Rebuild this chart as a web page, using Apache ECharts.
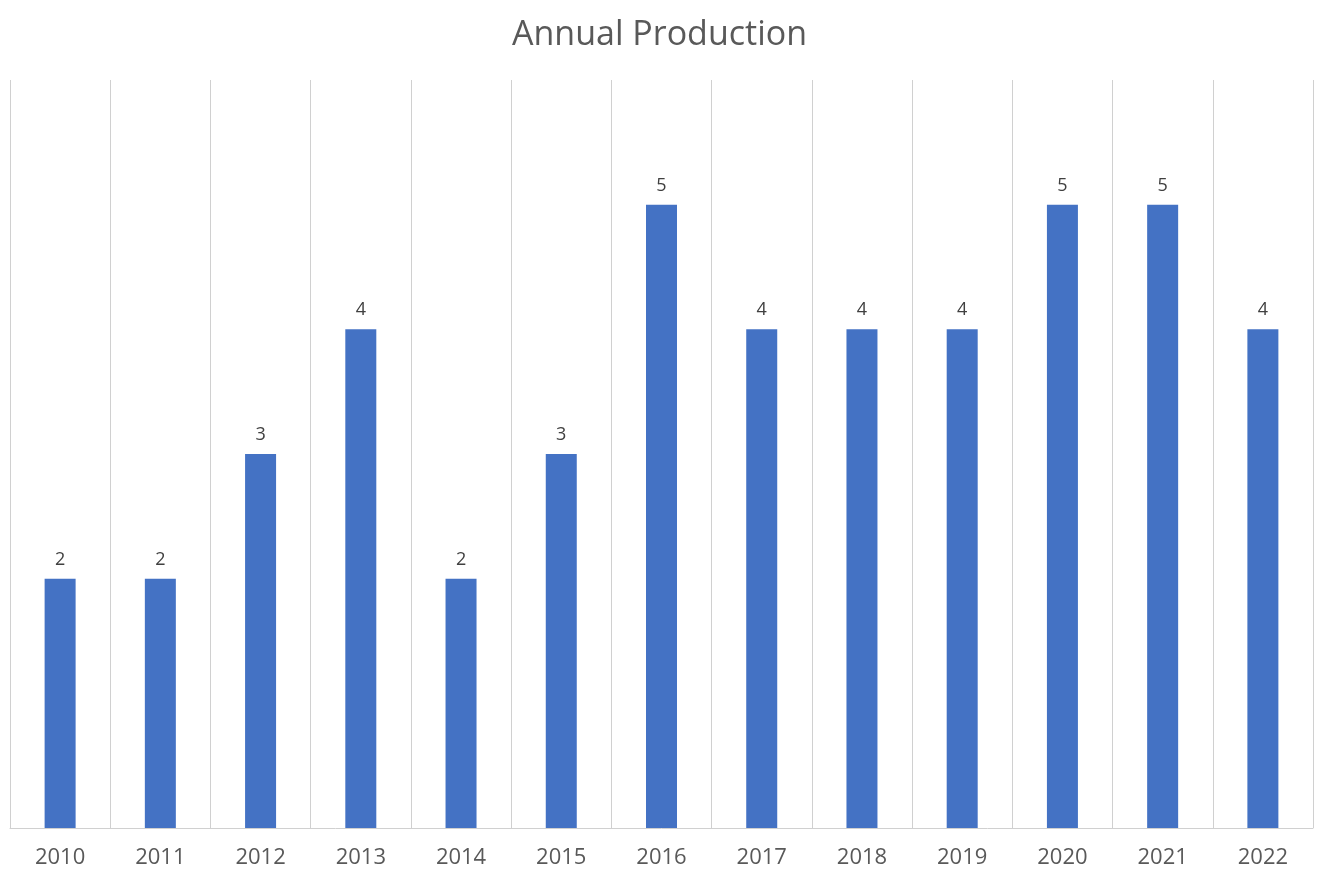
<!DOCTYPE html>
<html>
<head>
<meta charset="utf-8">
<script src="https://cdn.jsdelivr.net/npm/echarts@6/dist/echarts.min.js"></script>
<style>
html,body{margin:0;padding:0;background:#fff;}
#chart{width:1319px;height:871px;}
</style>
</head>
<body>
<div id="chart"></div>
<script>
const titleText = 'Annual Production';
const categories = ['2010','2011','2012','2013','2014','2015','2016','2017','2018','2019','2020','2021','2022'];
const production = [2,2,3,4,2,3,5,4,4,4,5,5,4];

const chart = echarts.init(document.getElementById('chart'));
chart.setOption({
  animation: false,
  backgroundColor: '#ffffff',
  title: {
    text: titleText,
    left: 'center',
    top: 13,
    textStyle: {fontFamily: 'Open Sans', fontSize: 34, fontWeight: 'normal', color: '#595959'}
  },
  grid: {left: 10, right: 6, top: 80, bottom: 43, containLabel: false},
  xAxis: {
    type: 'category',
    data: categories,
    boundaryGap: true,
    axisLine: {show: true, lineStyle: {color: '#d0d0d0', width: 1}},
    axisTick: {show: false},
    axisLabel: {fontFamily: 'Open Sans', fontSize: 22, color: '#595959', margin: 19, interval: 0},
    splitLine: {show: true, interval: 0, lineStyle: {color: '#d0d0d0', width: 1}}
  },
  yAxis: {
    type: 'value',
    min: 0, max: 6, interval: 1,
    show: false,
    splitLine: {show: false}
  },
  series: [{
    type: 'bar',
    data: production,
    barWidth: 31,
    itemStyle: {color: '#4472c4'},
    label: {show: true, position: 'top', distance: 10, fontFamily: 'Open Sans', fontSize: 18, color: '#404040'}
  }]
});
</script>
</body>
</html>
